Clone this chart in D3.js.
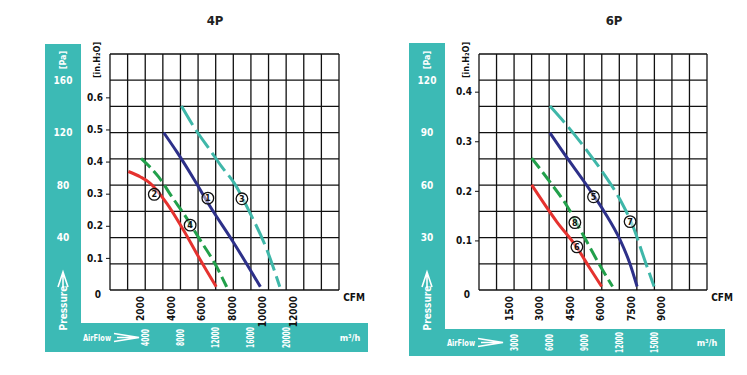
<!DOCTYPE html>
<html>
<head>
<meta charset="utf-8">
<script src="https://cdn.jsdelivr.net/npm/d3@7"></script>
<style>
  body { margin: 0; background: #fff; }
  svg text { font-family: "Liberation Sans Narrow", "Arial Narrow", "DejaVu Sans Condensed", sans-serif; font-weight: bold; }
</style>
</head>
<body>
<script>
// ---- data : 4P ----
var titles = ["4P", "6P"];

var cfmTicks4P = [2000, 4000, 6000, 8000, 10000, 12000];
var m3hTicks4P = [4000, 8000, 12000, 16000, 20000];
var paTicks4P = [40, 80, 120, 160];
var inchTicks4P = [0, 0.1, 0.2, 0.3, 0.4, 0.5, 0.6];

// curves in [CFM, in.H2O]
var curve4P_1 = [[3520, 0.49], [4380, 0.43], [5500, 0.345], [6560, 0.26], [8090, 0.148], [9850, 0.01]];
var curve4P_2 = [[1200, 0.369], [2000, 0.352], [2620, 0.333], [3720, 0.27], [4810, 0.187], [5900, 0.095], [6960, 0.01]];
var curve4P_3 = [[4680, 0.573], [5600, 0.5], [6550, 0.436], [7300, 0.385], [8150, 0.332], [9180, 0.239], [10280, 0.125], [11120, 0.01]];
var curve4P_4 = [[2030, 0.41], [3170, 0.353], [4130, 0.285], [4810, 0.239], [5900, 0.156], [6860, 0.083], [7640, 0.01]];
var labels4P = [["1", 6410, 0.286], ["2", 2900, 0.298], ["3", 8640, 0.284], ["4", 5250, 0.202]];

// ---- data : 6P ----
var cfmTicks6P = [1500, 3000, 4500, 6000, 7500, 9000];
var m3hTicks6P = [3000, 6000, 9000, 12000, 15000];
var paTicks6P = [30, 60, 90, 120];
var inchTicks6P = [0, 0.1, 0.2, 0.3, 0.4];

var curve6P_5 = [[3500, 0.317], [4080, 0.282], [5470, 0.202], [6210, 0.156], [6950, 0.102], [7440, 0.054], [7800, 0.007]];
var curve6P_6 = [[2600, 0.212], [3830, 0.138], [4810, 0.087], [5470, 0.044], [6050, 0.007]];
var curve6P_7 = [[3500, 0.371], [4400, 0.329], [5310, 0.282], [6130, 0.236], [6950, 0.183], [7600, 0.128], [8180, 0.06], [8640, 0.007]];
var curve6P_8 = [[2600, 0.266], [3500, 0.218], [4320, 0.171], [5140, 0.111], [5960, 0.05], [6590, 0.007]];
var labels6P = [["5", 5650, 0.188], ["6", 4830, 0.087], ["7", 7455, 0.138], ["8", 4730, 0.136]];

var teal = "#3cbab5";
var colors = { navy: "#2d3089", red: "#e5322f", cyan: "#3fb7a9", green: "#22a04b" };

var svg = d3.select("body").append("svg")
    .attr("width", 747)
    .attr("height", 375);

var panels = [
  {
    title: titles[0], titleX: 215,
    band: { x: 45, y: 44, w: 36, bottom: 352, by: 323, right: 368 },
    grid: { x0: 110, x1: 339, y0: 54, y1: 290, cols: 13, rows: 9 },
    m3hMax: 26000, cfmMax: 15000, paMax: 180, inchMax: 0.735,
    cfmTicks: cfmTicks4P, m3hTicks: m3hTicks4P, paTicks: paTicks4P, inchTicks: inchTicks4P,
    curves: [
      { d: curve4P_2, c: colors.red, dash: null },
      { d: curve4P_4, c: colors.green, dash: "13,5" },
      { d: curve4P_1, c: colors.navy, dash: null },
      { d: curve4P_3, c: colors.cyan, dash: "22,6" }
    ],
    labels: labels4P
  },
  {
    title: titles[1], titleX: 614,
    band: { x: 409, y: 43, w: 36, bottom: 356, by: 329, right: 725 },
    grid: { x0: 479, x1: 707, y0: 54, y1: 290, cols: 13, rows: 9 },
    m3hMax: 19500, cfmMax: 11250, paMax: 135, inchMax: 0.476,
    cfmTicks: cfmTicks6P, m3hTicks: m3hTicks6P, paTicks: paTicks6P, inchTicks: inchTicks6P,
    curves: [
      { d: curve6P_6, c: colors.red, dash: null },
      { d: curve6P_8, c: colors.green, dash: "13,5" },
      { d: curve6P_5, c: colors.navy, dash: null },
      { d: curve6P_7, c: colors.cyan, dash: "22,6" }
    ],
    labels: labels6P
  }
];

panels.forEach(drawPanel);

function drawPanel(p) {
  var g = svg.append("g");
  var b = p.band, gr = p.grid;

  // scales
  var xM3h = d3.scaleLinear().domain([0, p.m3hMax]).range([gr.x0, gr.x1]);
  var xCfm = d3.scaleLinear().domain([0, p.cfmMax]).range([gr.x0, gr.x1]);
  var yPa = d3.scaleLinear().domain([0, p.paMax]).range([gr.y1, gr.y0]);
  var yIn = d3.scaleLinear().domain([0, p.inchMax]).range([gr.y1, gr.y0]);

  // title
  g.append("text")
    .attr("x", p.titleX).attr("y", 25)
    .attr("text-anchor", "middle")
    .style("font-size", "13px")
    .attr("fill", "#222")
    .text(p.title);

  // teal bands
  g.append("rect")
    .attr("x", b.x).attr("y", b.y)
    .attr("width", b.w).attr("height", b.bottom - b.y)
    .attr("fill", teal);
  g.append("rect")
    .attr("x", b.x).attr("y", b.by)
    .attr("width", b.right - b.x).attr("height", b.bottom - b.by)
    .attr("fill", teal);

  // grid lines (every 20/15 Pa and 2000/1500 m3/h)
  var xs = d3.range(gr.cols + 1).map(function (i) { return gr.x0 + i * (gr.x1 - gr.x0) / gr.cols; });
  var ys = d3.range(gr.rows + 1).map(function (i) { return gr.y0 + i * (gr.y1 - gr.y0) / gr.rows; });
  g.selectAll(".vline").data(xs).enter().append("line")
    .attr("x1", function (d) { return d; }).attr("x2", function (d) { return d; })
    .attr("y1", gr.y0).attr("y2", gr.y1)
    .attr("stroke", "#111").attr("stroke-width", 1.3);
  g.selectAll(".hline").data(ys).enter().append("line")
    .attr("x1", gr.x0).attr("x2", gr.x1)
    .attr("y1", function (d) { return d; }).attr("y2", function (d) { return d; })
    .attr("stroke", "#111").attr("stroke-width", 1.3);

  // in.H2O axis
  var inG = g.append("g").attr("transform", "translate(" + gr.x0 + ",0)")
    .call(d3.axisLeft(yIn).tickValues(p.inchTicks).tickSize(4).tickPadding(3)
      .tickFormat(function (d) { return d === 0 ? "0" : d3.format(".1f")(d); }));
  inG.select(".domain").remove();
  inG.selectAll("line").attr("stroke", "#111");
  inG.selectAll("text").style("font-size", "10px").attr("fill", "#111");
  inG.selectAll(".tick").filter(function (d) { return d === 0; }).select("line").remove();
  inG.selectAll(".tick").filter(function (d) { return d === 0; }).select("text").attr("x", -9).attr("dy", "0.75em");

  g.append("text")
    .attr("transform", "translate(" + (gr.x0 - 10) + "," + 60 + ") rotate(-90)")
    .attr("text-anchor", "middle")
    .style("font-size", "9px")
    .attr("fill", "#111")
    .text("[in.H₂O]");

  // Pa labels in the band
  var cx = b.x + b.w / 2;
  g.selectAll(".pa").data(p.paTicks).enter().append("text")
    .attr("x", cx).attr("y", function (d) { return yPa(d); })
    .attr("dy", "0.35em")
    .attr("text-anchor", "middle")
    .style("font-size", "10px")
    .attr("fill", "#fff")
    .text(function (d) { return d; });
  g.append("text")
    .attr("transform", "translate(" + (cx + 3) + "," + 60 + ") rotate(-90)")
    .attr("text-anchor", "middle")
    .style("font-size", "9px")
    .attr("fill", "#fff")
    .text("[Pa]");
  g.append("text")
    .attr("transform", "translate(" + (cx + 4) + "," + 308 + ") rotate(-90)")
    .attr("text-anchor", "middle")
    .style("font-size", "10px")
    .attr("fill", "#fff")
    .text("Pressure");
  // up arrow
  g.append("path")
    .attr("d", "M" + (cx - 5) + ",287 L" + cx + ",272 L" + (cx + 5) + ",287 M" + cx + ",274 L" + cx + ",287")
    .attr("fill", "none").attr("stroke", "#fff").attr("stroke-width", 1.6);

  // CFM labels
  g.selectAll(".cfm").data(p.cfmTicks).enter().append("text")
    .attr("transform", function (d) { return "translate(" + (xCfm(d) + 3.5) + "," + (gr.y1 + 6) + ") rotate(-90)"; })
    .attr("text-anchor", "end")
    .style("font-size", "10px")
    .attr("fill", "#111")
    .text(function (d) { return d; });
  g.append("text")
    .attr("x", gr.x1 + 15).attr("y", gr.y1 + 11)
    .attr("text-anchor", "middle")
    .style("font-size", "10px")
    .attr("fill", "#111")
    .text("CFM");

  // m3/h labels
  var my = (b.by + b.bottom) / 2;
  g.selectAll(".m3h").data(p.m3hTicks).enter().append("text")
    .attr("transform", function (d) { return "translate(" + (xM3h(d) + 3.5) + "," + my + ") rotate(-90)"; })
    .attr("text-anchor", "middle")
    .attr("textLength", function (d) { return String(d).length * 4.2; })
    .attr("lengthAdjust", "spacingAndGlyphs")
    .style("font-size", "10px")
    .attr("fill", "#fff")
    .text(function (d) { return d; });
  g.append("text")
    .attr("x", b.x + 38).attr("y", my + 3)
    .attr("textLength", 28)
    .attr("lengthAdjust", "spacingAndGlyphs")
    .style("font-size", "9px")
    .attr("fill", "#fff")
    .text("AirFlow");
  var ax = b.x + 69;
  g.append("path")
    .attr("d", "M" + ax + "," + (my - 4) + " L" + (ax + 25) + "," + my + " L" + ax + "," + (my + 4) + " M" + (ax + 3) + "," + my + " L" + (ax + 25) + "," + my)
    .attr("fill", "none").attr("stroke", "#fff").attr("stroke-width", 1.6);
  g.append("text")
    .attr("x", b.right - 18).attr("y", my + 3)
    .attr("text-anchor", "middle")
    .style("font-size", "9px")
    .attr("fill", "#fff")
    .text("m³/h");

  // fan curves
  var line = d3.line()
    .x(function (d) { return xCfm(d[0]); })
    .y(function (d) { return yIn(d[1]); })
    .curve(d3.curveMonotoneX);
  p.curves.forEach(function (c) {
    g.append("path")
      .datum(c.d)
      .attr("d", line)
      .attr("fill", "none")
      .attr("stroke", c.c)
      .attr("stroke-width", 3)
      .attr("stroke-dasharray", c.dash);
  });

  // circled curve numbers
  var lab = g.selectAll(".lab").data(p.labels).enter().append("g")
    .attr("transform", function (d) { return "translate(" + xCfm(d[1]) + "," + yIn(d[2]) + ")"; });
  lab.append("circle")
    .attr("r", 5.8)
    .attr("fill", "#fff").attr("fill-opacity", 0.45)
    .attr("stroke", "#111").attr("stroke-width", 1.3);
  lab.append("text")
    .attr("text-anchor", "middle")
    .attr("dy", "0.35em")
    .style("font-size", "9px")
    .attr("fill", "#111")
    .text(function (d) { return d[0]; });
}
</script>
</body>
</html>
